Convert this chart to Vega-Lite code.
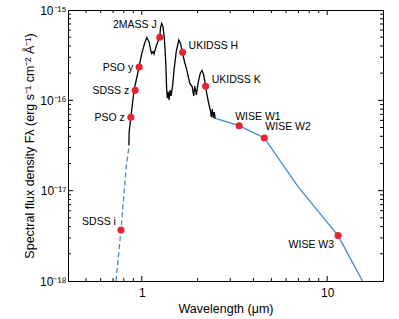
{
  "$schema": "https://vega.github.io/schema/vega-lite/v6.json",
  "width": 315,
  "height": 271,
  "autosize": "none",
  "padding": {"left": 68, "top": 10, "right": 16, "bottom": 38},
  "background": "white",
  "config": {
    "font": "Liberation Sans",
    "view": {"stroke": "black", "strokeWidth": 1},
    "axis": {"grid": false, "domain": false, "ticks": false, "labelColor": "black", "titleColor": "black", "labelFont": "Liberation Sans", "titleFont": "Liberation Sans", "labelFontSize": 12, "titleFontSize": 12.5, "titleFontWeight": "normal", "labelOverlap": false, "labelFlush": false}
  },
  "datasets": {
    "spectrum": [
      {"w": 0.852, "f": 3.20e-17}, {"w": 0.855, "f": 4.46e-17}, {"w": 0.873, "f": 6.54e-17}, {"w": 0.889, "f": 8.88e-17},
      {"w": 0.909, "f": 1.30e-16}, {"w": 0.934, "f": 1.68e-16}, {"w": 0.967, "f": 2.34e-16}, {"w": 0.996, "f": 3.18e-16},
      {"w": 1.029, "f": 4.10e-16}, {"w": 1.064, "f": 4.96e-16}, {"w": 1.094, "f": 4.46e-16}, {"w": 1.117, "f": 3.61e-16},
      {"w": 1.131, "f": 3.30e-16}, {"w": 1.150, "f": 3.47e-16}, {"w": 1.164, "f": 3.26e-16}, {"w": 1.189, "f": 3.80e-16},
      {"w": 1.218, "f": 4.42e-16}, {"w": 1.249, "f": 5.02e-16}, {"w": 1.264, "f": 6.48e-16}, {"w": 1.280, "f": 7.09e-16},
      {"w": 1.300, "f": 6.57e-16}, {"w": 1.320, "f": 5.15e-16}, {"w": 1.336, "f": 3.61e-16}, {"w": 1.349, "f": 2.46e-16},
      {"w": 1.361, "f": 1.37e-16}, {"w": 1.373, "f": 1.06e-16}, {"w": 1.387, "f": 1.24e-16}, {"w": 1.404, "f": 1.01e-16},
      {"w": 1.421, "f": 1.30e-16}, {"w": 1.439, "f": 1.12e-16}, {"w": 1.466, "f": 1.44e-16}, {"w": 1.493, "f": 2.17e-16},
      {"w": 1.534, "f": 3.47e-16}, {"w": 1.584, "f": 4.65e-16}, {"w": 1.618, "f": 4.26e-16}, {"w": 1.652, "f": 3.47e-16},
      {"w": 1.699, "f": 2.69e-16}, {"w": 1.757, "f": 2.09e-16}, {"w": 1.814, "f": 1.55e-16}, {"w": 1.869, "f": 1.42e-16},
      {"w": 1.906, "f": 1.12e-16}, {"w": 1.930, "f": 1.44e-16}, {"w": 1.971, "f": 1.15e-16}, {"w": 2.012, "f": 1.55e-16},
      {"w": 2.070, "f": 2.01e-16}, {"w": 2.114, "f": 2.14e-16}, {"w": 2.157, "f": 1.91e-16}, {"w": 2.202, "f": 1.48e-16},
      {"w": 2.248, "f": 1.15e-16}, {"w": 2.294, "f": 9.34e-17}, {"w": 2.342, "f": 7.82e-17}, {"w": 2.371, "f": 6.54e-17},
      {"w": 2.401, "f": 8.02e-17}, {"w": 2.430, "f": 6.37e-17}, {"w": 2.460, "f": 7.43e-17}, {"w": 2.491, "f": 6.21e-17}
    ],
    "model_dash": [
      {"w": 0.726, "f": 1.0e-18}, {"w": 0.772, "f": 3.67e-18}, {"w": 0.826, "f": 1.92e-17}, {"w": 0.855, "f": 3.2e-17}
    ],
    "model": [
      {"w": 2.52, "f": 6.29e-17}, {"w": 3.35, "f": 5.24e-17}, {"w": 4.58, "f": 3.83e-17}, {"w": 6.96, "f": 1.11e-17},
      {"w": 11.45, "f": 3.18e-18}, {"w": 15.5, "f": 1.0e-18}
    ],
    "phot": [
      {"band": "SDSS i", "w": 0.772, "f": 3.67e-18},
      {"band": "PSO z", "w": 0.873, "f": 6.49e-17},
      {"band": "SDSS z", "w": 0.921, "f": 1.29e-16},
      {"band": "PSO y", "w": 0.968, "f": 2.34e-16},
      {"band": "2MASS J", "w": 1.25, "f": 4.99e-16},
      {"band": "UKIDSS H", "w": 1.66, "f": 3.40e-16},
      {"band": "UKIDSS K", "w": 2.21, "f": 1.43e-16},
      {"band": "WISE W1", "w": 3.35, "f": 5.24e-17},
      {"band": "WISE W2", "w": 4.58, "f": 3.83e-17},
      {"band": "WISE W3", "w": 11.45, "f": 3.18e-18}
    ],
    "xticks": [
      {"w": 0.5, "kind": "minor"}, {"w": 0.6, "kind": "minor"}, {"w": 0.7, "kind": "minor"}, {"w": 0.8, "kind": "minor"}, {"w": 0.9, "kind": "minor"},
      {"w": 1, "kind": "major"}, {"w": 2, "kind": "minor"}, {"w": 3, "kind": "minor"}, {"w": 4, "kind": "minor"}, {"w": 5, "kind": "minor"},
      {"w": 6, "kind": "minor"}, {"w": 7, "kind": "minor"}, {"w": 8, "kind": "minor"}, {"w": 9, "kind": "minor"}, {"w": 10, "kind": "major"}
    ],
    "yticks": [
      {"f": 2e-18, "kind": "minor"}, {"f": 3e-18, "kind": "minor"}, {"f": 4e-18, "kind": "minor"}, {"f": 5e-18, "kind": "minor"},
      {"f": 6e-18, "kind": "minor"}, {"f": 7e-18, "kind": "minor"}, {"f": 8e-18, "kind": "minor"}, {"f": 9e-18, "kind": "minor"},
      {"f": 1e-17, "kind": "major"},
      {"f": 2e-17, "kind": "minor"}, {"f": 3e-17, "kind": "minor"}, {"f": 4e-17, "kind": "minor"}, {"f": 5e-17, "kind": "minor"},
      {"f": 6e-17, "kind": "minor"}, {"f": 7e-17, "kind": "minor"}, {"f": 8e-17, "kind": "minor"}, {"f": 9e-17, "kind": "minor"},
      {"f": 1e-16, "kind": "major"},
      {"f": 2e-16, "kind": "minor"}, {"f": 3e-16, "kind": "minor"}, {"f": 4e-16, "kind": "minor"}, {"f": 5e-16, "kind": "minor"},
      {"f": 6e-16, "kind": "minor"}, {"f": 7e-16, "kind": "minor"}, {"f": 8e-16, "kind": "minor"}, {"f": 9e-16, "kind": "minor"}
    ]
  },
  "layer": [
    {
      "data": {"name": "model_dash"},
      "mark": {"type": "line", "color": "#4389c9", "strokeWidth": 1.3, "strokeDash": [5, 3], "clip": true},
      "encoding": {
        "x": {"field": "w", "type": "quantitative", "scale": {"type": "log", "domain": [0.4, 20], "nice": false},
          "axis": {"orient": "bottom", "title": "Wavelength (μm)", "titlePadding": 4, "values": [1, 10],
            "labelExpr": "datum.value == 1 ? '1' : '10'", "labelPadding": 6}},
        "y": {"field": "f", "type": "quantitative", "scale": {"type": "log", "domain": [1e-18, 1e-15], "nice": false},
          "axis": {"orient": "left", "title": "Spectral flux density Fλ (erg s⁻¹ cm⁻² Å⁻¹)", "titlePadding": 3,
            "values": [1e-18, 1e-17, 1e-16, 1e-15],
            "labelExpr": "datum.value == 1e-15 ? '10⁻¹⁵' : datum.value == 1e-16 ? '10⁻¹⁶' : datum.value == 1e-17 ? '10⁻¹⁷' : '10⁻¹⁸'",
            "labelPadding": 2}}
      }
    },
    {
      "data": {"name": "model"},
      "mark": {"type": "line", "color": "#4389c9", "strokeWidth": 1.3, "clip": true},
      "encoding": {
        "x": {"field": "w", "type": "quantitative", "axis": null},
        "y": {"field": "f", "type": "quantitative", "axis": null}
      }
    },
    {
      "data": {"name": "spectrum"},
      "mark": {"type": "line", "color": "black", "strokeWidth": 1.3},
      "encoding": {
        "x": {"field": "w", "type": "quantitative", "axis": null},
        "y": {"field": "f", "type": "quantitative", "axis": null}
      }
    },
    {
      "data": {"name": "xticks"},
      "mark": {"type": "tick", "orient": "vertical", "color": "black", "opacity": 1, "thickness": 1, "clip": true},
      "encoding": {
        "x": {"field": "w", "type": "quantitative", "axis": null},
        "y": {"datum": 1e-18, "type": "quantitative", "axis": null},
        "size": {"condition": {"test": "datum.kind == 'major'", "value": 10}, "value": 6}
      }
    },
    {
      "data": {"name": "xticks"},
      "mark": {"type": "tick", "orient": "vertical", "color": "black", "opacity": 1, "thickness": 1, "clip": true},
      "encoding": {
        "x": {"field": "w", "type": "quantitative", "axis": null},
        "y": {"datum": 1e-15, "type": "quantitative", "axis": null},
        "size": {"condition": {"test": "datum.kind == 'major'", "value": 10}, "value": 6}
      }
    },
    {
      "data": {"name": "yticks"},
      "mark": {"type": "tick", "orient": "horizontal", "color": "black", "opacity": 1, "thickness": 1, "clip": true},
      "encoding": {
        "y": {"field": "f", "type": "quantitative", "axis": null},
        "x": {"datum": 0.4, "type": "quantitative", "axis": null},
        "size": {"condition": {"test": "datum.kind == 'major'", "value": 10}, "value": 6}
      }
    },
    {
      "data": {"name": "yticks"},
      "mark": {"type": "tick", "orient": "horizontal", "color": "black", "opacity": 1, "thickness": 1, "clip": true},
      "encoding": {
        "y": {"field": "f", "type": "quantitative", "axis": null},
        "x": {"datum": 20, "type": "quantitative", "axis": null},
        "size": {"condition": {"test": "datum.kind == 'major'", "value": 10}, "value": 6}
      }
    },
    {
      "data": {"name": "phot"},
      "mark": {"type": "circle", "color": "#e8232b", "opacity": 1, "size": 50},
      "encoding": {
        "x": {"field": "w", "type": "quantitative", "axis": null},
        "y": {"field": "f", "type": "quantitative", "axis": null}
      }
    },
    {
      "data": {"name": "phot"},
      "transform": [{"filter": "indexof(['PSO y', 'SDSS z', 'PSO z'], datum.band) >= 0"}],
      "mark": {"type": "text", "align": "right", "baseline": "middle", "dx": -6, "dy": 1, "fontSize": 10.5, "color": "black"},
      "encoding": {
        "x": {"field": "w", "type": "quantitative", "axis": null},
        "y": {"field": "f", "type": "quantitative", "axis": null},
        "text": {"field": "band"}
      }
    },
    {
      "data": {"name": "phot"},
      "transform": [{"filter": "datum.band == '2MASS J'"}],
      "mark": {"type": "text", "align": "right", "baseline": "middle", "dx": -3, "dy": -12, "fontSize": 10.5, "color": "black"},
      "encoding": {
        "x": {"field": "w", "type": "quantitative", "axis": null},
        "y": {"field": "f", "type": "quantitative", "axis": null},
        "text": {"field": "band"}
      }
    },
    {
      "data": {"name": "phot"},
      "transform": [{"filter": "datum.band == 'SDSS i'"}],
      "mark": {"type": "text", "align": "right", "baseline": "middle", "dx": -5, "dy": -8, "fontSize": 10.5, "color": "black"},
      "encoding": {
        "x": {"field": "w", "type": "quantitative", "axis": null},
        "y": {"field": "f", "type": "quantitative", "axis": null},
        "text": {"field": "band"}
      }
    },
    {
      "data": {"name": "phot"},
      "transform": [{"filter": "indexof(['UKIDSS H', 'UKIDSS K'], datum.band) >= 0"}],
      "mark": {"type": "text", "align": "left", "baseline": "middle", "dx": 6, "dy": -6, "fontSize": 10.5, "color": "black"},
      "encoding": {
        "x": {"field": "w", "type": "quantitative", "axis": null},
        "y": {"field": "f", "type": "quantitative", "axis": null},
        "text": {"field": "band"}
      }
    },
    {
      "data": {"name": "phot"},
      "transform": [{"filter": "datum.band == 'WISE W1'"}],
      "mark": {"type": "text", "align": "left", "baseline": "middle", "dx": -4, "dy": -9, "fontSize": 10.5, "color": "black"},
      "encoding": {
        "x": {"field": "w", "type": "quantitative", "axis": null},
        "y": {"field": "f", "type": "quantitative", "axis": null},
        "text": {"field": "band"}
      }
    },
    {
      "data": {"name": "phot"},
      "transform": [{"filter": "datum.band == 'WISE W2'"}],
      "mark": {"type": "text", "align": "left", "baseline": "middle", "dx": 1, "dy": -11, "fontSize": 10.5, "color": "black"},
      "encoding": {
        "x": {"field": "w", "type": "quantitative", "axis": null},
        "y": {"field": "f", "type": "quantitative", "axis": null},
        "text": {"field": "band"}
      }
    },
    {
      "data": {"name": "phot"},
      "transform": [{"filter": "datum.band == 'WISE W3'"}],
      "mark": {"type": "text", "align": "right", "baseline": "middle", "dx": -4, "dy": 9, "fontSize": 10.5, "color": "black"},
      "encoding": {
        "x": {"field": "w", "type": "quantitative", "axis": null},
        "y": {"field": "f", "type": "quantitative", "axis": null},
        "text": {"field": "band"}
      }
    }
  ],
  "resolve": {"axis": {"x": "independent", "y": "independent"}}
}
